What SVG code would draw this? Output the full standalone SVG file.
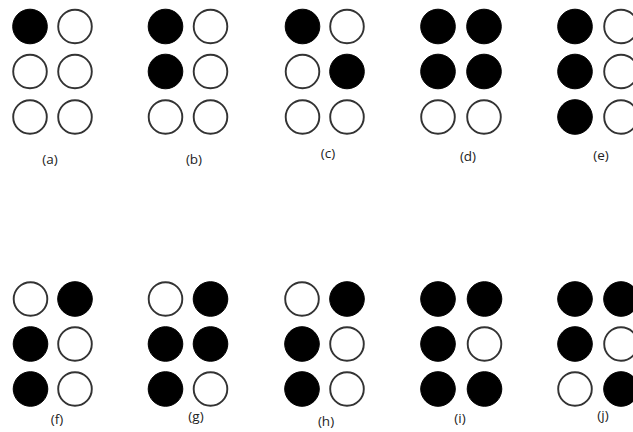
<svg xmlns="http://www.w3.org/2000/svg" width="633" height="432" viewBox="0 0 633 432">
<style>
.o{fill:#fff;stroke:#333;stroke-width:1.9}
.f{fill:#000;stroke:#000;stroke-width:1}
.l{font-family:"Open Sans","Liberation Sans",Arial,sans-serif;font-size:13.5px;fill:#222;text-anchor:middle}
</style>
<rect width="633" height="432" fill="#fff"/>
<defs>
<circle id="w" r="16.8" class="o"/>
<circle id="b" r="17.3" class="f"/>
</defs>
<g id="cell-a">
<use href="#b" x="30" y="26.5"/><use href="#w" x="75" y="26.5"/>
<use href="#w" x="30" y="71.5"/><use href="#w" x="75" y="71.5"/>
<use href="#w" x="30" y="117"/><use href="#w" x="75" y="117"/>
<text class="l" x="50" y="164">(a)</text>
</g>
<g id="cell-b">
<use href="#b" x="165.5" y="26.5"/><use href="#w" x="210.5" y="26.5"/>
<use href="#b" x="165.5" y="71.5"/><use href="#w" x="210.5" y="71.5"/>
<use href="#w" x="165.5" y="117"/><use href="#w" x="210.5" y="117"/>
<text class="l" x="194" y="164">(b)</text>
</g>
<g id="cell-c">
<use href="#b" x="302.5" y="26.5"/><use href="#w" x="347" y="26.5"/>
<use href="#w" x="302.5" y="71.5"/><use href="#b" x="347" y="71.5"/>
<use href="#w" x="302.5" y="117"/><use href="#w" x="347" y="117"/>
<text class="l" x="328" y="158">(c)</text>
</g>
<g id="cell-d">
<use href="#b" x="438" y="26.5"/><use href="#b" x="484" y="26.5"/>
<use href="#b" x="438" y="71.5"/><use href="#b" x="484" y="71.5"/>
<use href="#w" x="438" y="117"/><use href="#w" x="484" y="117"/>
<text class="l" x="468" y="161">(d)</text>
</g>
<g id="cell-e">
<use href="#b" x="575" y="26.5"/><use href="#w" x="621" y="26.5"/>
<use href="#b" x="575" y="71.5"/><use href="#w" x="621" y="71.5"/>
<use href="#b" x="575" y="117"/><use href="#w" x="621" y="117"/>
<text class="l" x="601" y="160">(e)</text>
</g>
<g id="cell-f">
<use href="#w" x="30.5" y="299"/><use href="#b" x="75" y="299"/>
<use href="#b" x="30.5" y="344"/><use href="#w" x="75" y="344"/>
<use href="#b" x="30.5" y="389"/><use href="#w" x="75" y="389"/>
<text class="l" x="57" y="424">(f)</text>
</g>
<g id="cell-g">
<use href="#w" x="165.5" y="299"/><use href="#b" x="210.5" y="299"/>
<use href="#b" x="165.5" y="344"/><use href="#b" x="210.5" y="344"/>
<use href="#b" x="165.5" y="389"/><use href="#w" x="210.5" y="389"/>
<text class="l" x="196" y="421">(g)</text>
</g>
<g id="cell-h">
<use href="#w" x="302" y="299"/><use href="#b" x="347" y="299"/>
<use href="#b" x="302" y="344"/><use href="#w" x="347" y="344"/>
<use href="#b" x="302" y="389"/><use href="#w" x="347" y="389"/>
<text class="l" x="326" y="426">(h)</text>
</g>
<g id="cell-i">
<use href="#b" x="438" y="299"/><use href="#b" x="484.5" y="299"/>
<use href="#b" x="438" y="344"/><use href="#w" x="484.5" y="344"/>
<use href="#b" x="438" y="389"/><use href="#b" x="484.5" y="389"/>
<text class="l" x="460" y="423">(i)</text>
</g>
<g id="cell-j">
<use href="#b" x="575" y="299"/><use href="#b" x="621" y="299"/>
<use href="#b" x="575" y="344"/><use href="#w" x="621" y="344"/>
<use href="#w" x="575" y="389"/><use href="#b" x="621" y="389"/>
<text class="l" x="603" y="420">(j)</text>
</g>
<g id="connectors"></g>
</svg>
